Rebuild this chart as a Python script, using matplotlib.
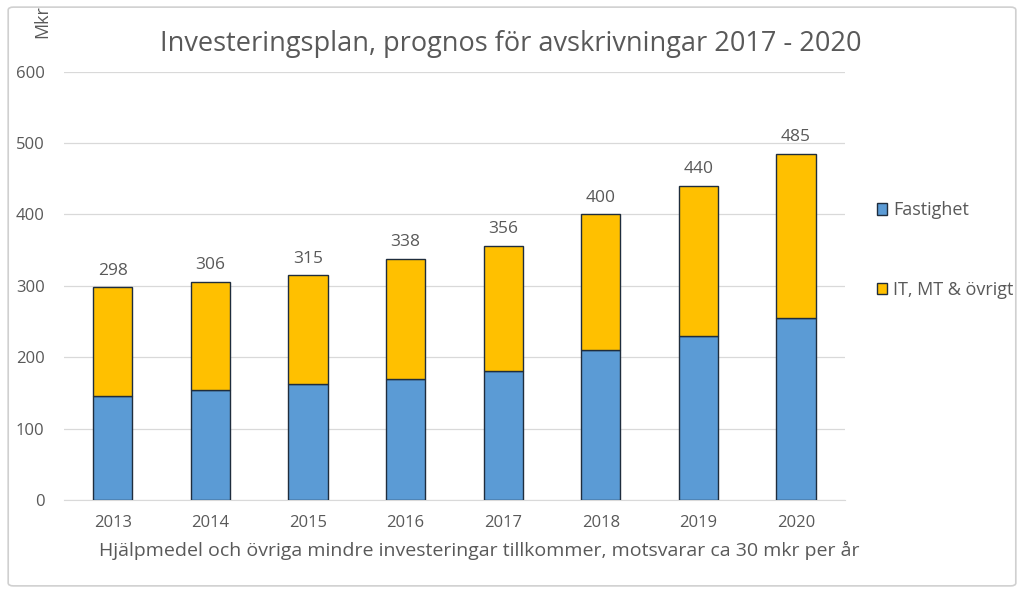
import matplotlib.pyplot as plt
from matplotlib.patches import FancyBboxPatch

# data
years = ['2013', '2014', '2015', '2016', '2017', '2018', '2019', '2020']
fastighet = [145, 154, 162, 170, 181, 210, 230, 255]
totals = [298, 306, 315, 338, 356, 400, 440, 485]
it_ovrigt = [t - f for t, f in zip(totals, fastighet)]

blue = '#5b9bd5'
gold = '#ffc000'
edge = '#1f2d3d'
grey = '#595959'

plt.rcParams['font.family'] = ['Open Sans', 'DejaVu Sans']

fig = plt.figure(figsize=(10.24, 5.93), dpi=100)
fig.patches.append(FancyBboxPatch((0.008, 0.012), 0.984, 0.976, boxstyle='round,pad=0,rounding_size=0.005',
                                  transform=fig.transFigure, fill=False, edgecolor='#d0d0d0', linewidth=1.2))

ax = fig.add_axes([0.0625, 0.157, 0.7625, 0.722])
x = range(len(years))
ax.bar(x, fastighet, width=0.4, color=blue, edgecolor=edge, linewidth=1.0, label='Fastighet', zorder=3)
ax.bar(x, it_ovrigt, width=0.4, bottom=fastighet, color=gold, edgecolor=edge, linewidth=1.0,
       label='IT, MT & övrigt', zorder=3)

for i, t in enumerate(totals):
    ax.text(i, t + 12, str(t), ha='center', va='bottom', fontsize=12.5, color=grey)

ax.set_xlim(-0.5, 7.5)
ax.set_ylim(0, 600)
ax.set_yticks(range(0, 601, 100))
ax.set_xticks(list(x))
ax.set_xticklabels(years)
ax.tick_params(length=0, labelsize=12, colors=grey, pad=11)
ax.tick_params(axis='y', pad=14)
ax.yaxis.grid(True, color='#d9d9d9', linewidth=0.9, zorder=0)
for s in ax.spines.values():
    s.set_visible(False)
ax.spines['bottom'].set_visible(True)
ax.spines['bottom'].set_color('#d9d9d9')

fig.text(0.499, 0.926, 'Investeringsplan, prognos för avskrivningar 2017 - 2020', ha='center', va='center',
         fontsize=19.5, color=grey)
fig.text(0.041, 0.963, 'Mkr', rotation=90, ha='center', va='center', fontsize=13, color=grey)
fig.text(0.468, 0.072, 'Hjälpmedel och övriga mindre investeringar tillkommer, motsvarar ca 30 mkr per år',
         ha='center', va='center', fontsize=14, color=grey)

ax.legend(loc='upper left', bbox_to_anchor=(1.02, 0.735), frameon=False, fontsize=13, labelcolor=grey,
          handlelength=0.6, handleheight=0.6, handletextpad=0.3, labelspacing=3.4)

fig.savefig('out.png', dpi=100)
